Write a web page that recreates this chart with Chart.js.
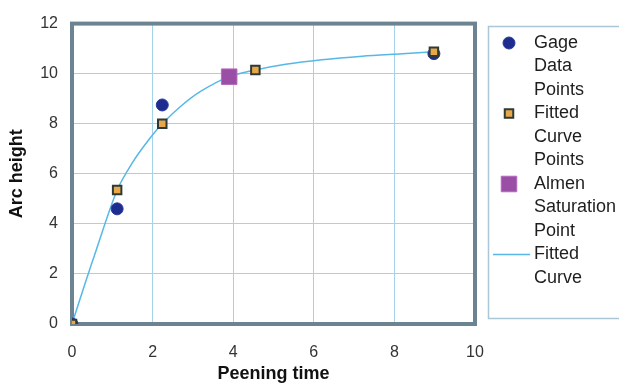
<!DOCTYPE html>
<html>
<head>
<meta charset="utf-8">
<script src="https://cdn.jsdelivr.net/npm/chart.js@4/dist/chart.umd.min.js"></script>
<style>
  html,body{margin:0;padding:0;background:#fff;}
  #wrap{width:619px;height:383px;position:relative;}
</style>
</head>
<body>
<div id="wrap"><canvas id="chart" width="619" height="383"></canvas></div>
<script>
// data
const gageX = [0, 1.12, 2.24, 8.98];
const gageY = [0, 4.6, 8.75, 10.8];
const fitPtX = [0, 1.12, 2.24, 4.55, 8.98];
const fitPtY = [0, 5.35, 8.0, 10.15, 10.88];
const almenX = [3.9];
const almenY = [9.88];
const curveX = [0, 0.3, 0.6, 1.12, 1.5, 1.9, 2.24, 2.7, 3.2, 3.9, 4.55, 5.3, 6.2, 7.2, 8.2, 8.98];
const curveY = [0, 1.5, 2.95, 5.35, 6.45, 7.35, 8.0, 8.7, 9.3, 9.88, 10.15, 10.38, 10.56, 10.7, 10.8, 10.88];
const xTicks = [0, 2, 4, 6, 8, 10];
const yTicks = [0, 2, 4, 6, 8, 10, 12];
const seriesNames = ["Gage Data Points", "Fitted Curve Points", "Almen Saturation Point", "Fitted Curve"];

const pts = (xs, ys) => xs.map((x, i) => ({x: x, y: ys[i]}));
const FONT = "'Liberation Sans', Arial, sans-serif";

// border round the plot area + hand drawn legend (labels wrap word by word)
const framePlugin = {
  id: "frame",
  beforeDatasetsDraw(c){
    const a = c.chartArea, ctx = c.ctx;
    ctx.save();
    ctx.strokeStyle = "#6c8491";
    ctx.lineWidth = 4;
    ctx.strokeRect(a.left, a.top, a.right - a.left, a.bottom - a.top);
    ctx.restore();
  },
  afterDraw(c){
    const ctx = c.ctx;
    ctx.save();
    ctx.strokeStyle = "#a9c7d6";
    ctx.lineWidth = 1.5;
    ctx.strokeRect(488.5, 26.5, 140, 292);
    ctx.font = "18px " + FONT;
    ctx.textBaseline = "middle";
    let y = 43;
    const lh = 23.5;
    c.data.datasets.forEach(ds => {
      if (ds.showLine) {
        ctx.strokeStyle = ds.borderColor;
        ctx.lineWidth = 1.5;
        ctx.beginPath(); ctx.moveTo(493, y); ctx.lineTo(530, y); ctx.stroke();
      } else {
        ctx.fillStyle = ds.pointBackgroundColor;
        ctx.strokeStyle = ds.pointBorderColor;
        ctx.lineWidth = ds.pointBorderWidth;
        Chart.helpers.drawPoint(ctx, {pointStyle: ds.pointStyle, radius: ds.pointRadius, rotation: 0, borderWidth: ds.pointBorderWidth}, 509, y);
      }
      ctx.fillStyle = "#1e1e1e";
      ds.label.split(" ").forEach(w => { ctx.fillText(w, 534, y); y += lh; });
    });
    ctx.restore();
  }
};

new Chart(document.getElementById("chart"), {
  type: "scatter",
  data: {
    datasets: [
      {label: seriesNames[0], data: pts(gageX, gageY), order: 3,
       pointStyle: "circle", pointRadius: 6, pointBackgroundColor: "#1d2c8e", pointBorderColor: "#2a3a9a", pointBorderWidth: 1, showLine: false},
      {label: seriesNames[1], data: pts(fitPtX, fitPtY), order: 1,
       pointStyle: "rect", pointRadius: 6, pointBackgroundColor: "#e8a84a", pointBorderColor: "#2e3a36", pointBorderWidth: 2, showLine: false},
      {label: seriesNames[2], data: pts(almenX, almenY), order: 2,
       pointStyle: "rect", pointRadius: 11, pointBackgroundColor: "#9a4ea6", pointBorderColor: "#b56cbc", pointBorderWidth: 1, showLine: false},
      {label: seriesNames[3], data: pts(curveX, curveY), order: 4,
       showLine: true, borderColor: "#56b8e6", borderWidth: 1.5, pointRadius: 0, tension: 0.3, fill: false}
    ]
  },
  options: {
    responsive: false,
    animation: false,
    layout: {padding: {top: 21, right: 144, left: 0, bottom: 0}},
    plugins: {legend: {display: false}, tooltip: {enabled: false}},
    scales: {
      x: {
        type: "linear", min: 0, max: 10,
        afterBuildTicks: s => { s.ticks = xTicks.map(v => ({value: v})); },
        afterFit: s => { s.height = 59; },
        grid: {color: "#a3d2ea", lineWidth: 1, drawTicks: false},
        border: {display: false},
        ticks: {padding: 19, color: "#333", font: {size: 16, family: FONT}},
        title: {display: true, text: "Peening time", color: "#111", padding: 0,
                font: {size: 18, weight: "bold", family: FONT, lineHeight: 1}}
      },
      y: {
        type: "linear", min: 0, max: 12,
        afterBuildTicks: s => { s.ticks = yTicks.map(v => ({value: v})); },
        afterFit: s => { s.width = 72; },
        grid: {color: "#a3d2ea", lineWidth: 1, drawTicks: false},
        border: {display: false},
        ticks: {padding: 14, color: "#333", font: {size: 16, family: FONT}},
        title: {display: true, text: "Arc height", color: "#111", padding: {top: 8, bottom: 0},
                font: {size: 18, weight: "bold", family: FONT, lineHeight: 1}}
      }
    }
  },
  plugins: [framePlugin]
});
</script>
</body>
</html>
